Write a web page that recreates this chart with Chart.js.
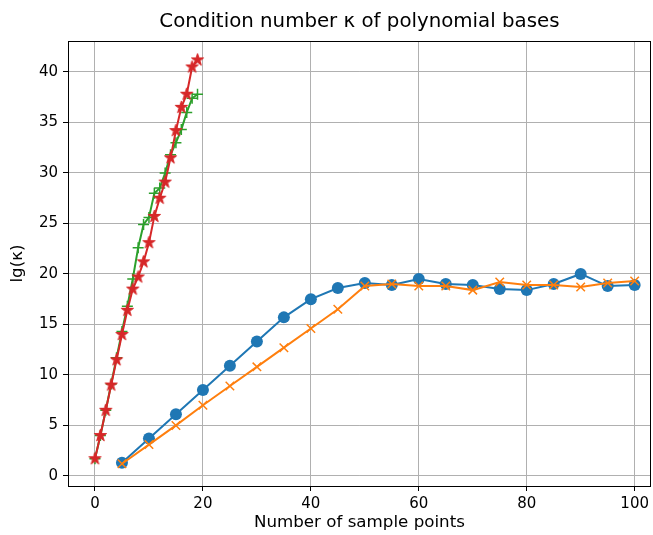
<!DOCTYPE html>
<html>
<head>
<meta charset="utf-8">
<script src="https://cdn.jsdelivr.net/npm/chart.js@4/dist/chart.umd.min.js"></script>
<style>
  html, body { margin: 0; padding: 0; background: #fff; }
  #wrap { width: 653px; height: 535px; }
</style>
</head>
<body>
<div id="wrap"><canvas id="c" width="653" height="535"></canvas></div>
<script>
// ---- data ----
const titleText = 'Condition number κ of polynomial bases';
const blueX = [5, 10, 15, 20, 25, 30, 35, 40, 45, 50, 55, 60, 65, 70, 75, 80, 85, 90, 95, 100];
const blueY = [1.3, 3.7, 6.1, 8.5, 10.9, 13.3, 15.7, 17.5, 18.6, 19.1, 18.9, 19.5, 19.0, 18.9, 18.5, 18.4, 19.0, 20.0, 18.8, 18.9];
const orangeX = [5, 10, 15, 20, 25, 30, 35, 40, 45, 50, 55, 60, 65, 70, 75, 80, 85, 90, 95, 100];
const orangeY = [1.2, 3.1, 5.0, 7.0, 8.9, 10.8, 12.7, 14.6, 16.5, 18.8, 19.0, 18.8, 18.8, 18.4, 19.2, 18.9, 18.9, 18.7, 19.1, 19.3];
const greenX = [0, 1, 2, 3, 4, 5, 6, 7, 8, 9, 10, 11, 12, 13, 14, 15, 16, 17, 18, 19];
const greenY = [1.7, 4.0, 6.5, 9.1, 11.7, 14.3, 16.8, 19.5, 22.6, 24.9, 25.6, 28.0, 28.5, 30.0, 31.8, 33.0, 34.3, 36.0, 37.4, 37.8];
const redX = [0, 1, 2, 3, 4, 5, 6, 7, 8, 9, 10, 11, 12, 13, 14, 15, 16, 17, 18, 19];
const redY = [1.7, 4.0, 6.5, 9.0, 11.5, 14.0, 16.4, 18.5, 19.7, 21.2, 23.1, 25.7, 27.5, 29.1, 31.5, 34.2, 36.5, 37.8, 40.5, 41.2];
const xTicks = [0, 20, 40, 60, 80, 100];
const yTicks = [0, 5, 10, 15, 20, 25, 30, 35, 40];

const toPts = (xs, ys) => xs.map((x, i) => ({ x: x, y: ys[i] }));

// filled star marker (matplotlib '*')
function makeStar(color, R) {
  const c = document.createElement('canvas');
  const s = Math.ceil(R * 2 + 2);
  c.width = s; c.height = s;
  const g = c.getContext('2d');
  const cx = s / 2, cy = s / 2, r = R * 0.381966;
  g.beginPath();
  for (let i = 0; i < 10; i++) {
    const rad = i % 2 === 0 ? R : r;
    const a = -Math.PI / 2 + i * Math.PI / 5;
    const px = cx + rad * Math.cos(a), py = cy + rad * Math.sin(a);
    if (i === 0) g.moveTo(px, py); else g.lineTo(px, py);
  }
  g.closePath();
  g.fillStyle = color; g.fill();
  g.strokeStyle = color; g.lineWidth = 1; g.stroke();
  return c;
}
const star = makeStar('#d62728', 6.5);

const FONT = 'DejaVu Sans';

// frame (top/right spines) + title centred over the axes, like matplotlib
const frame = {
  id: 'frame',
  afterDraw(chart) {
    const a = chart.chartArea, ctx = chart.ctx;
    ctx.save();
    ctx.strokeStyle = '#000';
    ctx.lineWidth = 1;
    ctx.strokeRect(Math.round(a.left) + 0.5, Math.round(a.top) + 0.5,
                   Math.round(a.right - a.left) - 1, Math.round(a.bottom - a.top));
    ctx.fillStyle = '#000';
    ctx.font = '19.8px "DejaVu Sans"';
    ctx.textAlign = 'center';
    ctx.textBaseline = 'middle';
    ctx.fillText(titleText, (a.left + a.right) / 2, 22);
    ctx.restore();
  }
};

const gridOpts = { color: '#b0b0b0', lineWidth: 1, tickColor: '#000', tickLength: 5, drawTicks: true };

new Chart(document.getElementById('c'), {
  type: 'line',
  data: {
    datasets: [
      { data: toPts(blueX, blueY), borderColor: '#1f77b4', backgroundColor: '#1f77b4', borderWidth: 2,
        pointStyle: 'circle', pointRadius: 6, pointBorderWidth: 0, order: 4 },
      { data: toPts(orangeX, orangeY), borderColor: '#ff7f0e', backgroundColor: '#ff7f0e', borderWidth: 2,
        pointStyle: 'crossRot', pointRadius: 6, pointBorderWidth: 1.5, order: 3 },
      { data: toPts(greenX, greenY), borderColor: '#2ca02c', backgroundColor: '#2ca02c', borderWidth: 2,
        pointStyle: 'cross', pointRadius: 5.5, pointBorderWidth: 1.5, order: 2 },
      { data: toPts(redX, redY), borderColor: '#d62728', backgroundColor: '#d62728', borderWidth: 2,
        pointStyle: star, pointRadius: 6, order: 1 }
    ]
  },
  options: {
    responsive: false,
    animation: false,
    events: [],
    layout: { autoPadding: false, padding: { left: 0, right: 1, top: 41, bottom: 0 } },
    elements: { line: { tension: 0 } },
    plugins: {
      legend: { display: false },
      tooltip: { enabled: false },
      title: { display: false }
    },
    scales: {
      x: {
        type: 'linear',
        min: -5, max: 103,
        afterBuildTicks: s => { s.ticks = xTicks.map(v => ({ value: v })); },
        afterFit: s => { s.height = 49; },
        grid: gridOpts,
        border: { display: true, color: '#000', width: 1 },
        ticks: { color: '#000', font: { family: FONT, size: 15 }, padding: 4, maxRotation: 0 },
        title: { display: true, text: 'Number of sample points', color: '#000',
                 font: { family: FONT, size: 16.7, lineHeight: 1.2 }, padding: { top: 0, bottom: 2 } }
      },
      y: {
        type: 'linear',
        min: -1, max: 43.07,
        afterBuildTicks: s => { s.ticks = yTicks.map(v => ({ value: v })); },
        afterFit: s => { s.width = 68; },
        grid: gridOpts,
        border: { display: true, color: '#000', width: 1 },
        ticks: { color: '#000', font: { family: FONT, size: 15 }, padding: 5 },
        title: { display: true, text: 'lg(κ)', color: '#000',
                 font: { family: FONT, size: 16.7, lineHeight: 1.2 }, padding: { top: 8, bottom: 0 } }
      }
    }
  },
  plugins: [frame]
});
</script>
</body>
</html>
